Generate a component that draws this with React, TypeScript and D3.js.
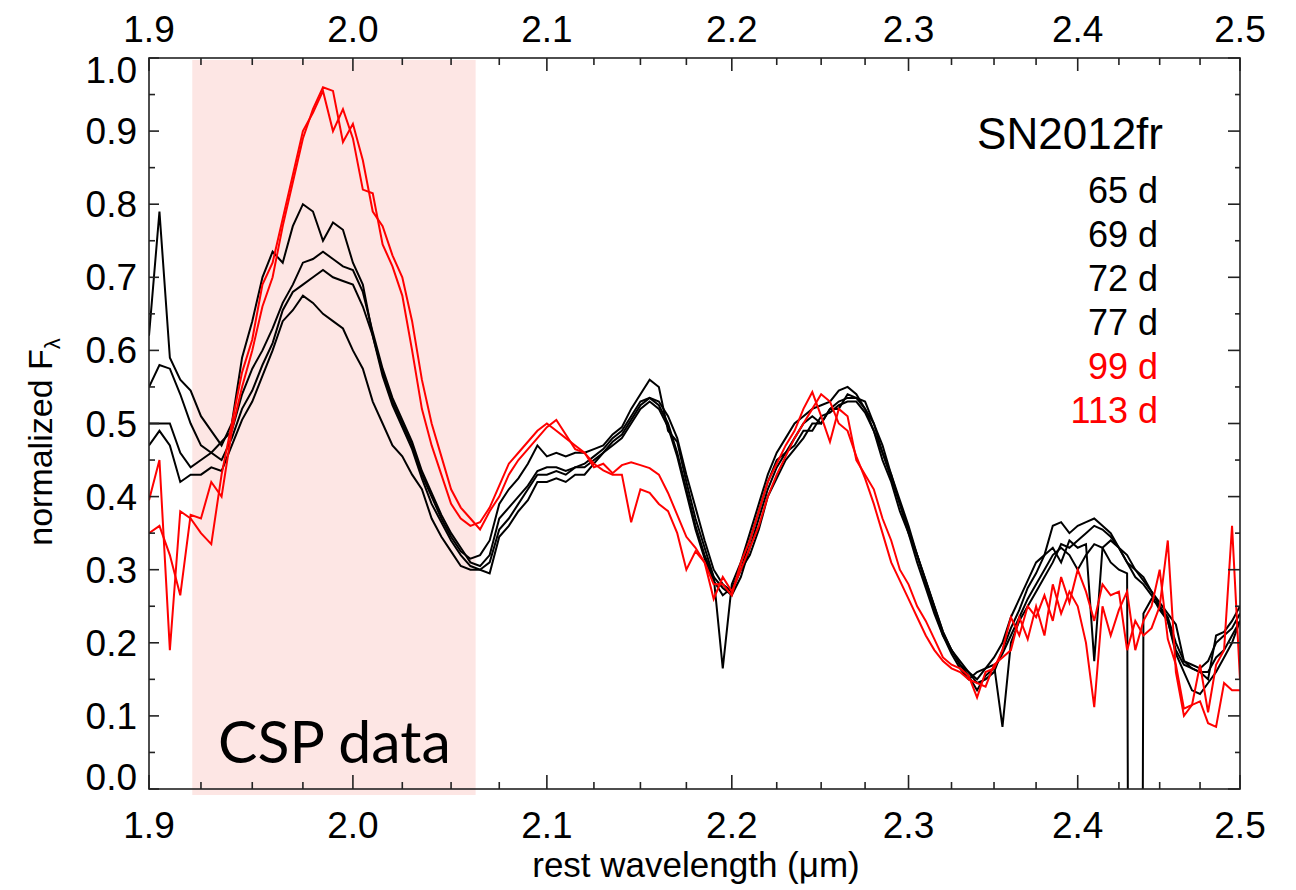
import React from "react";
import * as d3 from "d3";

// sampling grid of the spectra (rest wavelength, micron)
const wavelength: number[] = d3.range(121).map((i) => +(1.9 + i * 0.005).toFixed(3));

const flux65d = [
  0.62, 0.79, 0.59, 0.56, 0.545, 0.51, 0.49, 0.47, 0.5, 0.59,
  0.64, 0.7, 0.735, 0.72, 0.77, 0.8, 0.79, 0.75, 0.775, 0.765,
  0.72, 0.69, 0.62, 0.57, 0.53, 0.5, 0.47, 0.43, 0.4, 0.37,
  0.345, 0.325, 0.315, 0.32, 0.34, 0.39, 0.41, 0.425, 0.445, 0.47,
  0.455, 0.46, 0.455, 0.46, 0.46, 0.465, 0.47, 0.485, 0.495, 0.52,
  0.54, 0.56, 0.55, 0.49, 0.475, 0.42, 0.37, 0.33, 0.29, 0.165,
  0.28, 0.31, 0.35, 0.39, 0.43, 0.46, 0.48, 0.5, 0.51, 0.52,
  0.525, 0.53, 0.545, 0.55, 0.54, 0.52, 0.49, 0.45, 0.42, 0.38,
  0.35, 0.32, 0.28, 0.245, 0.21, 0.185, 0.165, 0.15, 0.16, 0.165,
  0.18, 0.2, 0.235, 0.26, 0.285, 0.31, 0.32, 0.36, 0.365, 0.35,
  0.36, 0.365, 0.37, 0.36, 0.35, 0.33, 0.31, 0.29, 0.28, 0.265,
  0.245, 0.23, 0.19, 0.17, 0.165, 0.16, 0.15, 0.21, 0.215, 0.23,
  0.25,
];

const flux69d = [
  0.55, 0.58, 0.575, 0.54, 0.5, 0.47, 0.46, 0.475, 0.49, 0.54,
  0.575, 0.6, 0.63, 0.665, 0.69, 0.72, 0.725, 0.735, 0.725, 0.715,
  0.71, 0.68, 0.625, 0.575, 0.535, 0.505, 0.475, 0.435, 0.405, 0.375,
  0.35, 0.33, 0.31, 0.305, 0.32, 0.37, 0.385, 0.4, 0.415, 0.435,
  0.44, 0.44, 0.435, 0.44, 0.445, 0.455, 0.465, 0.48, 0.49, 0.51,
  0.53, 0.535, 0.53, 0.51, 0.48, 0.43, 0.385, 0.34, 0.3, 0.28,
  0.27, 0.3, 0.34, 0.38, 0.42, 0.45, 0.46, 0.48, 0.5, 0.51,
  0.5, 0.52, 0.53, 0.535, 0.535, 0.52, 0.5, 0.46, 0.43, 0.39,
  0.355, 0.32, 0.285, 0.25, 0.215, 0.19, 0.17, 0.16, 0.15, 0.165,
  0.17, 0.085, 0.2, 0.23, 0.25, 0.27, 0.29, 0.31, 0.335, 0.33,
  0.34, 0.35, 0.36, 0.355, 0.345, 0.33, 0.31, 0.3, 0.285, 0.27,
  0.25, 0.235, 0.2, 0.175, 0.17, 0.165, 0.175, 0.2, 0.21, 0.22,
  0.24,
];

const flux72d = [
  0.5, 0.5, 0.5, 0.46, 0.44, 0.45, 0.46, 0.45, 0.48, 0.52,
  0.545, 0.58, 0.61, 0.655, 0.68, 0.69, 0.7, 0.71, 0.7, 0.695,
  0.69, 0.66, 0.62, 0.565, 0.525, 0.495, 0.465, 0.425, 0.39, 0.365,
  0.34, 0.32, 0.305, 0.3, 0.31, 0.355, 0.37, 0.39, 0.41, 0.43,
  0.43, 0.435, 0.43, 0.44, 0.44, 0.45, 0.46, 0.475, 0.485, 0.505,
  0.525, 0.535, 0.525, 0.5, 0.46, 0.41, 0.36, 0.32, 0.29, 0.275,
  0.265, 0.29, 0.33, 0.37, 0.41, 0.44, 0.46, 0.47, 0.49, 0.49,
  0.51, 0.515, 0.525, 0.53, 0.53, 0.515, 0.49, 0.46, 0.425, 0.39,
  0.35, 0.31, 0.275, 0.24, 0.21, 0.19, 0.17, 0.155, 0.135, 0.155,
  0.165, 0.185, 0.21, 0.235, 0.26, 0.28, 0.3, 0.32, 0.33, 0.32,
  0.3, 0.32, 0.335, 0.33, 0.31, 0.3, 0.295, -3, 0.24, 0.26,
  0.25, 0.23, 0.185, 0.16, 0.135, 0.13, 0.145, 0.16, 0.18, 0.2,
  0.23,
];

const flux77d = [
  0.47, 0.49, 0.47, 0.42, 0.43, 0.43, 0.44, 0.435, 0.47, 0.505,
  0.53, 0.565, 0.6, 0.64, 0.655, 0.675, 0.665, 0.65, 0.64, 0.63,
  0.6, 0.575, 0.53, 0.5, 0.47, 0.455, 0.43, 0.41, 0.37, 0.345,
  0.325, 0.305, 0.3, 0.3, 0.295, 0.345, 0.36, 0.38, 0.395, 0.42,
  0.42, 0.425, 0.42, 0.43, 0.43, 0.445, 0.46, 0.47, 0.48, 0.5,
  0.52, 0.53, 0.52, 0.495, 0.455, 0.405, 0.355, 0.315, 0.285, 0.265,
  0.275, 0.3, 0.32, 0.355, 0.4, 0.425, 0.45, 0.465, 0.48, 0.5,
  0.5, 0.52, 0.52, 0.54, 0.535, 0.53, 0.5, 0.47, 0.43, 0.395,
  0.36, 0.32, 0.285, 0.25, 0.215, 0.19, 0.175, 0.16, 0.145, 0.15,
  0.16, 0.19, 0.22, 0.245, 0.275, 0.295, 0.32, 0.33, 0.31, 0.34,
  0.33, 0.335, 0.175, 0.33, 0.34, 0.33, 0.32, 0.3, 0.29, 0.27,
  0.255, 0.24, 0.225, 0.175, 0.165, 0.16, 0.16, 0.18, 0.19, 0.21,
  0.23,
];

const flux99d = [
  0.395, 0.45, 0.19, 0.38, 0.37, 0.35, 0.335, 0.43, 0.5, 0.57,
  0.615, 0.69, 0.72, 0.78, 0.84, 0.9, 0.925, 0.955, 0.9, 0.93,
  0.89, 0.82, 0.815, 0.745, 0.715, 0.675, 0.6, 0.52, 0.47, 0.43,
  0.39, 0.37, 0.36, 0.365, 0.385, 0.415, 0.445, 0.46, 0.475, 0.49,
  0.5, 0.49, 0.48, 0.47, 0.46, 0.44, 0.445, 0.432, 0.443, 0.447,
  0.443, 0.439, 0.43, 0.405, 0.375, 0.345, 0.33, 0.31, 0.28, 0.28,
  0.265, 0.31, 0.34, 0.38, 0.42, 0.445, 0.47, 0.49, 0.52, 0.543,
  0.51, 0.475, 0.52, 0.51, 0.45, 0.43, 0.41, 0.37, 0.34, 0.3,
  0.28, 0.25, 0.23, 0.205, 0.18, 0.17, 0.165, 0.155, 0.125, 0.16,
  0.165, 0.19, 0.235, 0.21, 0.25, 0.235, 0.265, 0.23, 0.29, 0.255,
  0.3, 0.27, 0.23, 0.28, 0.265, 0.27, 0.19, 0.23, 0.21, 0.22,
  0.25, 0.34, 0.16, 0.1, 0.115, 0.12, 0.09, 0.085, 0.145, 0.135,
  0.135,
];

const flux113d = [
  0.35, 0.36, 0.32, 0.265, 0.375, 0.37, 0.42, 0.4, 0.49, 0.55,
  0.6, 0.66, 0.7, 0.77, 0.83, 0.89, 0.93, 0.96, 0.955, 0.885,
  0.91, 0.86, 0.79, 0.77, 0.73, 0.7, 0.64, 0.56, 0.5, 0.455,
  0.41, 0.385, 0.37, 0.355, 0.38, 0.4, 0.43, 0.45, 0.465, 0.48,
  0.495, 0.505, 0.485, 0.465, 0.46, 0.445, 0.436, 0.43, 0.43, 0.365,
  0.41, 0.405, 0.39, 0.38, 0.35, 0.3, 0.325, 0.31, 0.26, 0.29,
  0.27, 0.3, 0.33, 0.36, 0.4, 0.43, 0.455, 0.48, 0.5, 0.52,
  0.54, 0.53, 0.5, 0.49, 0.455, 0.425, 0.39, 0.35, 0.31, 0.285,
  0.26, 0.235, 0.21, 0.19, 0.175, 0.165, 0.16, 0.15, 0.145, 0.14,
  0.17, 0.18, 0.19, 0.235, 0.205, 0.25, 0.21, 0.28, 0.24, 0.27,
  0.25, 0.2, 0.112, 0.25, 0.21, 0.245, 0.27, 0.19, 0.23, 0.25,
  0.3, 0.205, 0.17, 0.11, 0.115, 0.17, 0.105, 0.17, 0.19, 0.36,
  0.15,
];

const epochLabels = ["65 d", "69 d", "72 d", "77 d", "99 d", "113 d"];
const epochColors = ["#000000", "#000000", "#000000", "#000000", "#ff0000", "#ff0000"];
const epochFlux = [flux65d, flux69d, flux72d, flux77d, flux99d, flux113d];

const xMajorTicks = [1.9, 2.0, 2.1, 2.2, 2.3, 2.4, 2.5];
const xMinorTicks = d3.range(25).map((i) => +(1.9 + i * 0.025).toFixed(3));
const yMajorTicks = d3.range(11).map((i) => +(i * 0.1).toFixed(2));
const yMinorTicks = d3.range(21).map((i) => +(i * 0.05).toFixed(2));
const cspRange = [1.9208, 2.0627];

const W = 1296;
const H = 890;
const L = 149;
const R = 1240;
const T = 58;
const B = 789;
const FONT = "'Liberation Sans', Arial, Helvetica, sans-serif";

export default function App() {
  const x = d3.scaleLog().domain([1.9, 2.5]).range([L, R]);
  const y = d3.scaleLinear().domain([0, 1]).range([B, T]);
  const line = d3
    .line<number>()
    .x((_, i) => x(wavelength[i]))
    .y((v) => y(v));

  const axisColor = "#222";
  const sw = 1.6;

  return (
    <div style={{ position: "absolute", left: 0, top: 0 }}>
      <svg width={W} height={H} style={{ display: "block", background: "#fff" }}>
        <defs>
          <clipPath id="plotclip">
            <rect x={L} y={T} width={R - L} height={B - T} />
          </clipPath>
        </defs>
        {/* CSP shaded region */}
        <rect
          x={x(cspRange[0])}
          y={T + 2}
          width={x(cspRange[1]) - x(cspRange[0])}
          height={B - T + 4}
          fill="#fde6e4"
        />
        <text x={218} y={763} fontFamily="Lato, 'Open Sans', sans-serif" fontSize={59} fill="#000">
          CSP data
        </text>

        {/* spectra */}
        <g clipPath="url(#plotclip)" fill="none" strokeWidth={2} strokeLinejoin="miter">
          {epochFlux.map((vals, k) => (
            <path key={k} d={line(vals) || ""} stroke={epochColors[k]} />
          ))}
        </g>

        {/* frame */}
        <rect x={L} y={T} width={R - L} height={B - T} fill="none" stroke={axisColor} strokeWidth={sw} />

        {/* x ticks */}
        {xMinorTicks.map((t, i) => {
          const major = i % 4 === 0;
          const px = x(t);
          return (
            <g key={"xt" + i} stroke={axisColor} strokeWidth={sw}>
              <line x1={px} x2={px} y1={B} y2={B - (major ? 14 : 7)} />
              <line x1={px} x2={px} y1={T} y2={T + (major ? 13 : 7)} />
            </g>
          );
        })}
        {/* y ticks */}
        {yMinorTicks.map((t, i) => {
          const major = i % 2 === 0;
          const py = y(t);
          return (
            <g key={"yt" + i} stroke={axisColor} strokeWidth={sw}>
              <line x1={L} x2={L + (major ? 10 : 6)} y1={py} y2={py} />
              <line x1={R} x2={R - (major ? 12 : 5)} y1={py} y2={py} />
            </g>
          );
        })}

        {/* x tick labels */}
        <g fontFamily={FONT} fontSize={37} fill="#000" textAnchor="middle">
          {xMajorTicks.map((t) => (
            <text key={"xb" + t} x={x(t)} y={838}>
              {t.toFixed(1)}
            </text>
          ))}
          {xMajorTicks.map((t) => (
            <text key={"xtp" + t} x={x(t)} y={42}>
              {t.toFixed(1)}
            </text>
          ))}
        </g>
        {/* y tick labels */}
        <g fontFamily={FONT} fontSize={37} fill="#000" textAnchor="end">
          {yMajorTicks.map((t) => {
            const cy = Math.min(Math.max(y(t), 70), 777);
            return (
              <text key={"yl" + t} x={137} y={cy + 13}>
                {t.toFixed(1)}
              </text>
            );
          })}
        </g>

        {/* axis titles */}
        <text x={696} y={877} fontFamily={FONT} fontSize={35} textAnchor="middle" fill="#000">
          rest wavelength (μm)
        </text>
        <text
          transform={`translate(52, 442) rotate(-90)`}
          fontFamily={FONT}
          fontSize={34}
          textAnchor="middle"
          fill="#000"
        >
          normalized F
          <tspan fontSize={22} dy={8}>
            λ
          </tspan>
        </text>

        {/* legend */}
        <text x={1163} y={149} fontFamily={FONT} fontSize={44} textAnchor="end" fill="#000">
          SN2012fr
        </text>
        {epochLabels.map((lab, k) => (
          <text
            key={lab}
            x={1158}
            y={203 + 44 * k}
            fontFamily={FONT}
            fontSize={36}
            textAnchor="end"
            fill={epochColors[k]}
          >
            {lab}
          </text>
        ))}
      </svg>
    </div>
  );
}
